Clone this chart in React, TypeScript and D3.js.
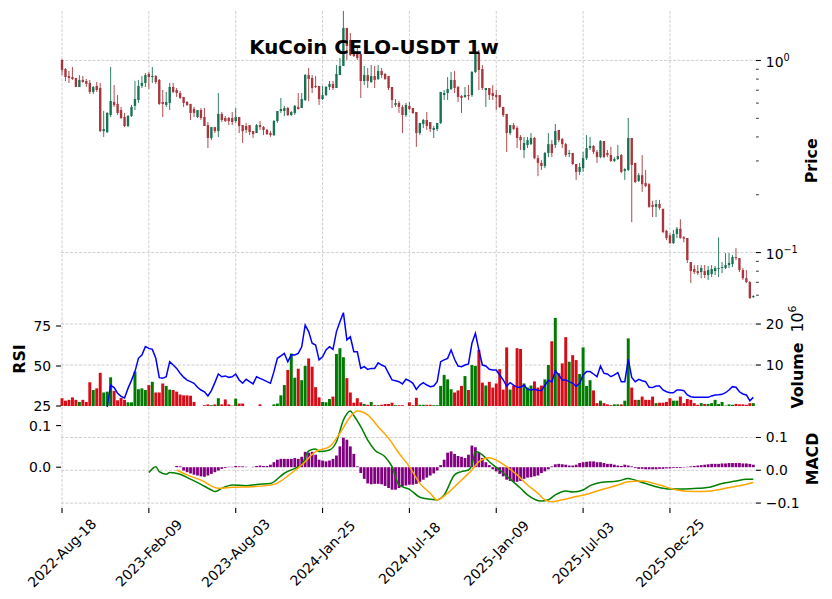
import { useEffect, useRef } from 'react';
import * as d3 from 'd3';

// weekly candles, index 0 = 2022-Aug-18
const tickWeeks = [0, 25, 50, 75, 100, 125, 150, 175];
const tickLabels = ['2022-Aug-18', '2023-Feb-09', '2023-Aug-03', '2024-Jan-25', '2024-Jul-18', '2025-Jan-09', '2025-Jul-03', '2025-Dec-25'];

const opens = [
  1.006, 0.903, 0.830, 0.820, 0.811, 0.728, 0.792, 0.782, 0.764, 0.686,
  0.737, 0.719, 0.429, 0.424, 0.520, 0.608, 0.594, 0.552, 0.508, 0.456,
  0.514, 0.580, 0.623, 0.737, 0.764, 0.851, 0.820, 0.830, 0.792, 0.608,
  0.587, 0.601, 0.728, 0.702, 0.677, 0.646, 0.608, 0.594, 0.559, 0.508,
  0.552, 0.508, 0.461, 0.395, 0.450, 0.429, 0.527, 0.502, 0.502, 0.502,
  0.484, 0.508, 0.461, 0.456, 0.461, 0.429, 0.419, 0.461, 0.450, 0.435,
  0.419, 0.409, 0.484, 0.546, 0.546, 0.566, 0.520, 0.533, 0.573, 0.566,
  0.623, 0.840, 0.811, 0.737, 0.737, 0.630, 0.661, 0.728, 0.755, 0.719,
  0.840, 0.936, 1.477, 1.279, 1.081, 1.094, 1.081, 0.782, 0.840, 0.773,
  0.830, 0.801, 0.882, 0.851, 0.830, 0.728, 0.587, 0.601, 0.573, 0.520,
  0.580, 0.566, 0.539, 0.419, 0.467, 0.490, 0.478, 0.435, 0.440, 0.473,
  0.661, 0.677, 0.711, 0.792, 0.728, 0.653, 0.646, 0.661, 0.661, 0.871,
  1.094, 0.903, 0.702, 0.719, 0.677, 0.661, 0.661, 0.573, 0.527, 0.419,
  0.461, 0.445, 0.400, 0.342, 0.363, 0.367, 0.395, 0.310, 0.293, 0.282,
  0.330, 0.367, 0.363, 0.435, 0.390, 0.367, 0.326, 0.330, 0.289, 0.263,
  0.275, 0.310, 0.350, 0.359, 0.334, 0.314, 0.381, 0.330, 0.322, 0.300,
  0.307, 0.322, 0.266, 0.269, 0.395, 0.293, 0.236, 0.253, 0.230, 0.227,
  0.177, 0.173, 0.179, 0.169, 0.130, 0.123, 0.112, 0.125, 0.133, 0.120,
  0.119, 0.0892, 0.0821, 0.0801, 0.0792, 0.0801, 0.0764, 0.0773, 0.0801, 0.0821,
  0.0831, 0.0831, 0.0861, 0.0871, 0.0947, 0.0936, 0.0811, 0.0736, 0.0702, 0.0587,
];
const highs = [
  1.018, 0.914, 0.882, 0.925, 0.811, 0.840, 0.830, 0.801, 0.792, 0.737,
  0.773, 0.764, 0.546, 0.539, 0.925, 0.745, 0.661, 0.573, 0.533, 0.520,
  0.587, 0.782, 0.792, 0.830, 0.861, 0.871, 0.925, 0.840, 0.801, 0.702,
  0.686, 0.764, 0.764, 0.719, 0.694, 0.646, 0.615, 0.594, 0.573, 0.552,
  0.566, 0.566, 0.478, 0.450, 0.450, 0.677, 0.539, 0.514, 0.508, 0.539,
  0.566, 0.508, 0.461, 0.473, 0.461, 0.429, 0.467, 0.484, 0.456, 0.440,
  0.429, 0.490, 0.546, 0.638, 0.580, 0.573, 0.546, 0.587, 0.677, 0.677,
  0.851, 0.914, 0.840, 0.830, 0.737, 0.737, 0.737, 0.782, 0.782, 0.947,
  1.030, 1.811, 1.477, 1.390, 1.134, 1.162, 1.081, 0.936, 0.914, 0.947,
  0.936, 0.947, 0.914, 0.861, 0.830, 0.728, 0.630, 0.615, 0.587, 0.601,
  0.608, 0.566, 0.539, 0.473, 0.496, 0.539, 0.478, 0.456, 0.473, 0.686,
  0.702, 0.820, 0.871, 0.882, 0.737, 0.661, 0.728, 0.745, 0.882, 1.134,
  1.134, 0.947, 0.719, 0.719, 0.745, 0.702, 0.661, 0.573, 0.527, 0.461,
  0.473, 0.456, 0.409, 0.400, 0.400, 0.419, 0.400, 0.322, 0.303, 0.334,
  0.419, 0.385, 0.467, 0.435, 0.395, 0.372, 0.342, 0.330, 0.289, 0.293,
  0.334, 0.409, 0.400, 0.363, 0.342, 0.385, 0.381, 0.342, 0.355, 0.314,
  0.363, 0.326, 0.275, 0.502, 0.395, 0.293, 0.259, 0.322, 0.269, 0.230,
  0.186, 0.188, 0.188, 0.169, 0.131, 0.126, 0.131, 0.136, 0.149, 0.122,
  0.119, 0.0892, 0.0861, 0.0861, 0.0861, 0.0861, 0.0851, 0.0861, 0.0851, 0.120,
  0.0892, 0.0994, 0.0994, 0.0971, 0.1055, 0.0936, 0.0831, 0.0811, 0.071, 0.060,
];
const lows = [
  0.840, 0.782, 0.764, 0.792, 0.728, 0.728, 0.764, 0.728, 0.669, 0.669,
  0.686, 0.424, 0.400, 0.419, 0.508, 0.573, 0.520, 0.495, 0.450, 0.450,
  0.508, 0.552, 0.601, 0.719, 0.728, 0.711, 0.764, 0.755, 0.587, 0.508,
  0.573, 0.552, 0.677, 0.646, 0.630, 0.573, 0.580, 0.490, 0.508, 0.502,
  0.490, 0.456, 0.350, 0.385, 0.419, 0.400, 0.478, 0.478, 0.461, 0.461,
  0.473, 0.419, 0.372, 0.419, 0.409, 0.395, 0.419, 0.435, 0.409, 0.409,
  0.400, 0.404, 0.473, 0.533, 0.514, 0.514, 0.514, 0.520, 0.555, 0.566,
  0.615, 0.615, 0.677, 0.719, 0.587, 0.623, 0.653, 0.702, 0.702, 0.719,
  0.840, 0.947, 1.006, 1.055, 1.043, 1.006, 0.638, 0.745, 0.719, 0.764,
  0.719, 0.792, 0.811, 0.792, 0.702, 0.566, 0.573, 0.533, 0.419, 0.508,
  0.552, 0.527, 0.355, 0.409, 0.445, 0.435, 0.424, 0.395, 0.429, 0.467,
  0.623, 0.623, 0.702, 0.677, 0.608, 0.533, 0.638, 0.623, 0.646, 0.861,
  0.702, 0.702, 0.573, 0.623, 0.623, 0.552, 0.566, 0.508, 0.334, 0.409,
  0.435, 0.350, 0.342, 0.310, 0.350, 0.363, 0.307, 0.250, 0.269, 0.275,
  0.314, 0.314, 0.350, 0.376, 0.350, 0.314, 0.314, 0.286, 0.239, 0.253,
  0.263, 0.303, 0.342, 0.326, 0.293, 0.310, 0.310, 0.314, 0.296, 0.296,
  0.303, 0.259, 0.239, 0.266, 0.144, 0.230, 0.233, 0.207, 0.219, 0.171,
  0.153, 0.153, 0.167, 0.126, 0.116, 0.111, 0.111, 0.119, 0.118, 0.113,
  0.0882, 0.0694, 0.0773, 0.0764, 0.0736, 0.0736, 0.0719, 0.0745, 0.0764, 0.0745,
  0.0782, 0.0821, 0.0831, 0.0841, 0.0914, 0.0792, 0.0719, 0.0694, 0.0573, 0.058,
];
const closes = [
  0.892, 0.820, 0.811, 0.801, 0.728, 0.792, 0.773, 0.755, 0.686, 0.728,
  0.702, 0.429, 0.440, 0.533, 0.615, 0.587, 0.533, 0.502, 0.456, 0.514,
  0.573, 0.630, 0.737, 0.764, 0.840, 0.820, 0.830, 0.773, 0.594, 0.594,
  0.608, 0.728, 0.686, 0.677, 0.638, 0.601, 0.587, 0.533, 0.533, 0.552,
  0.502, 0.456, 0.395, 0.450, 0.429, 0.527, 0.490, 0.484, 0.484, 0.478,
  0.508, 0.456, 0.429, 0.435, 0.424, 0.414, 0.461, 0.450, 0.435, 0.414,
  0.409, 0.484, 0.546, 0.559, 0.566, 0.520, 0.539, 0.580, 0.559, 0.630,
  0.840, 0.801, 0.719, 0.728, 0.630, 0.661, 0.728, 0.755, 0.719, 0.851,
  0.936, 1.477, 1.190, 1.068, 1.055, 1.030, 0.782, 0.840, 0.782, 0.830,
  0.792, 0.882, 0.840, 0.801, 0.719, 0.623, 0.601, 0.573, 0.520, 0.587,
  0.559, 0.533, 0.419, 0.473, 0.490, 0.456, 0.440, 0.445, 0.473, 0.686,
  0.677, 0.711, 0.792, 0.719, 0.646, 0.638, 0.661, 0.653, 0.871, 1.107,
  0.892, 0.719, 0.719, 0.661, 0.653, 0.646, 0.573, 0.520, 0.419, 0.461,
  0.440, 0.395, 0.385, 0.372, 0.385, 0.395, 0.310, 0.293, 0.282, 0.330,
  0.367, 0.330, 0.429, 0.385, 0.367, 0.322, 0.330, 0.289, 0.263, 0.279,
  0.310, 0.350, 0.359, 0.334, 0.314, 0.381, 0.314, 0.322, 0.300, 0.307,
  0.318, 0.263, 0.272, 0.395, 0.286, 0.233, 0.253, 0.227, 0.222, 0.173,
  0.173, 0.179, 0.171, 0.128, 0.119, 0.112, 0.125, 0.133, 0.119, 0.118,
  0.0914, 0.0801, 0.0792, 0.0782, 0.0831, 0.0764, 0.0811, 0.0821, 0.0831, 0.0831,
  0.0841, 0.0861, 0.0882, 0.0947, 0.0936, 0.0811, 0.0736, 0.0702, 0.058, 0.0594,
];

// volume in millions
const volumes = [
  1.9, 1.3, 1.5, 2.1, 1.5, 1.0, 1.5, 1.0, 5.8, 3.9,
  4.3, 8.1, 3.3, 3.5, 7.0, 3.7, 1.4, 2.0, 1.5, 0.9,
  0.9, 8.4, 4.1, 4.3, 3.9, 5.1, 5.9, 3.3, 3.3, 5.5,
  4.9, 4.0, 3.9, 3.5, 2.8, 2.6, 2.6, 2.5, 1.0, 0,
  0, 0.2, 0.4, 0.2, 0.4, 1.9, 0.4, 1.6, 0.4, 0.1,
  1.8, 0.6, 0.6, 0, 0, 0, 0, 0.4, 0, 0,
  0, 0.4, 0.6, 2.6, 5.1, 8.8, 12.8, 6.9, 9.1, 6.3,
  9.8, 11.6, 9.6, 4.6, 2.1, 1.0, 0.9, 1.7, 2.3, 12.7,
  14.1, 11.9, 6.8, 3.3, 0.8, 1.9, 0.9, 0.5, 0.3, 1.0,
  0.2, 0.2, 0.3, 0.5, 0.5, 0.8, 0.2, 0.2, 0.2, 0,
  0.9, 0.2, 2.0, 0.3, 0.3, 0.3, 0.3, 0.2, 0.2, 4.9,
  7.6, 6.5, 4.1, 3.3, 3.8, 4.9, 7.3, 3.9, 10.0, 9.8,
  13.7, 5.7, 5.0, 5.9, 4.5, 5.5, 9.0, 4.0, 14.3, 4.0,
  5.0, 14.1, 13.9, 5.5, 4.5, 5.0, 6.0, 4.5, 5.0, 6.5,
  10.0, 15.8, 21.5, 8.0, 10.4, 16.8, 10.8, 12.4, 11.2, 7.8,
  14.3, 4.9, 6.3, 3.8, 0.7, 1.3, 0.7, 0.4, 0.2, 0.4,
  0.4, 0.4, 1.3, 16.5, 4.5, 1.5, 1.5, 2.3, 1.5, 1.5,
  2.3, 0.7, 0.8, 0.8, 1.0, 1.9, 1.3, 1.3, 2.3, 0.7,
  1.7, 1.5, 0.7, 0.3, 0.7, 0.5, 0.5, 0.7, 1.5, 0.5,
  1.0, 0.1, 0.4, 0.3, 0.5, 0.4, 0.4, 0.3, 0.7, 0.7,
];

// RSI(14), first 13 weeks empty
const rsi = [
  null, null, null, null, null, null, null, null, null, null,
  null, null, null, 24.5, 38, 36.5, 33, 31, 30, 36,
  41, 46.5, 54.8, 56.9, 62.1, 61, 60.4, 54.8, 42.7, 42.3,
  43.3, 52.7, 50.6, 48.5, 45.5, 43, 41.2, 40.2, 39.2, 36.7,
  35, 33.9, 31.3, 34.6, 39.6, 45, 43.3, 43.8, 42.9, 43.3,
  45, 41.3, 39.2, 41.7, 40.2, 38.8, 43.3, 42.3, 41.3, 40.2,
  39.2, 46.5, 54.8, 56.3, 57.9, 52.7, 57, 56.9, 57.9, 62,
  75.6, 71.5, 64.2, 63.1, 53.8, 55.8, 60, 62.1, 60.4, 71.5,
  77.7, 83.3, 66.3, 68.3, 58.9, 58.9, 48.5, 49.6, 47.9, 48.5,
  48.5, 52, 50.6, 49.6, 45.4, 41.3, 40.8, 40.2, 38.8, 41.7,
  40.8, 39.2, 35.4, 38.1, 39.6, 38.1, 37.1, 37.5, 40.2, 52.7,
  53.8, 54.8, 60, 54.2, 50, 49.6, 50.6, 51.3, 64.2, 70.4,
  60, 50.6, 50, 47.9, 47.5, 47.5, 44.4, 41.3, 37.5, 39.6,
  38.1, 36.7, 36.7, 38.1, 35.4, 35, 35.4, 34.8, 34.5, 38,
  41, 40, 47, 44.4, 41.3, 41.3, 40.2, 39.2, 37.4, 39.2,
  44.4, 46.5, 46.5, 45, 43.3, 50, 45.4, 45, 43.3, 44.4,
  45.8, 40.2, 40.2, 54.2, 42.9, 40.2, 41.7, 40.8, 40.2, 36.7,
  36.5, 37.5, 37.5, 35, 33.9, 33.3, 33.3, 35, 35, 34.6,
  31.9, 30.8, 30.4, 30.4, 30.4, 30.4, 30.4, 31.3, 31.9, 32,
  32.3, 33.3, 35, 37.1, 36.7, 33.9, 32.5, 31.9, 28.3, 30.4,
];

// MACD / signal read as [week, value]
const macdPts = [
  [25, -0.007], [27, 0.011], [28, -0.004], [30, -0.012], [31, -0.007], [34, -0.012], [37, -0.027],
  [40, -0.043], [43, -0.060], [44, -0.065], [46, -0.055], [49, -0.045], [53, -0.047], [56, -0.043],
  [60, -0.040], [64, -0.009], [67, 0.006], [69, 0.016], [71, 0.059], [73, 0.065], [74, 0.057],
  [77, 0.062], [79, 0.087], [81, 0.153], [83, 0.181], [84, 0.167], [86, 0.133], [88, 0.092],
  [90, 0.062], [93, 0.041], [95, 0.011], [97, -0.045], [100, -0.058], [103, -0.082], [106, -0.088],
  [108, -0.090], [110, -0.075], [113, -0.014], [115, -0.004], [117, 0.001], [118, 0.016], [119, 0.057],
  [121, 0.047], [123, 0.026], [126, 0.001], [129, -0.027], [132, -0.055], [134, -0.075], [138, -0.094],
  [140, -0.090], [142, -0.075], [145, -0.063], [147, -0.066], [150, -0.060], [152, -0.047], [155, -0.037],
  [160, -0.033], [163, -0.025], [164, -0.027], [167, -0.037], [171, -0.050], [175, -0.057], [179, -0.057],
  [183, -0.055], [187, -0.050], [190, -0.040], [194, -0.033], [197, -0.027], [199, -0.027],
];
const signalPts = [
  [33, 0.001], [36, -0.014], [40, -0.030], [45, -0.055], [49, -0.052], [55, -0.050], [61, -0.043],
  [66, -0.009], [69, 0.016], [73, 0.057], [77, 0.072], [80, 0.113], [83, 0.163], [85, 0.181],
  [88, 0.169], [91, 0.133], [94, 0.098], [97, 0.052], [100, 0.011], [103, -0.040], [106, -0.070],
  [108, -0.090], [111, -0.070], [114, -0.040], [116, -0.020], [118, 0.001], [120, 0.026], [123, 0.038],
  [125, 0.031], [128, 0.011], [131, -0.014], [134, -0.045], [137, -0.070], [139, -0.090], [141, -0.096],
  [144, -0.090], [148, -0.080], [151, -0.073], [155, -0.060], [160, -0.045], [163, -0.035], [167, -0.033],
  [172, -0.045], [177, -0.060], [182, -0.065], [187, -0.063], [191, -0.055], [196, -0.045], [199, -0.037],
];
// histogram starts at week 33
const histStart = 33;
const hist = [
  0.003, 0.002, -0.008, -0.012, -0.015, -0.018, -0.020, -0.022, -0.023, -0.020,
  -0.016, -0.012, -0.008, -0.004, -0.002, 0.001, 0.001, 0.003, 0.002, 0.002,
  0.001, 0, 0.001, 0.003, 0.004, 0.003, 0.003, 0.006, 0.012, 0.018,
  0.020, 0.020, 0.020, 0.020, 0.022, 0.020, 0.025, 0.037, 0.035, 0.037,
  0.030, 0.018, 0.016, 0.014, 0.016, 0.020, 0.028, 0.050, 0.071, 0.066,
  0.050, 0.032, 0.002, -0.014, -0.028, -0.039, -0.041, -0.040, -0.040, -0.041,
  -0.045, -0.050, -0.054, -0.054, -0.050, -0.046, -0.044, -0.042, -0.042, -0.040,
  -0.035, -0.030, -0.025, -0.020, -0.015, -0.008, 0.005, 0.018, 0.035, 0.038,
  0.032, 0.027, 0.025, 0.022, 0.030, 0.052, 0.048, 0.035, 0.022, 0.012,
  0.005, -0.005, -0.010, -0.016, -0.022, -0.030, -0.033, -0.035, -0.035, -0.033,
  -0.028, -0.025, -0.024, -0.022, -0.020, -0.014, -0.010, -0.005, 0.002, 0.007,
  0.008, 0.007, 0.006, 0.004, 0.004, 0.006, 0.010, 0.012, 0.013, 0.014,
  0.014, 0.012, 0.012, 0.010, 0.008, 0.008, 0.006, 0.004, 0.003, 0.006,
  0.004, 0.002, -0.002, -0.004, -0.004, -0.005, -0.005, -0.005, -0.005, -0.004,
  -0.004, -0.003, -0.003, -0.002, -0.002, -0.002, -0.001, 0.001, 0.002, 0.003,
  0.004, 0.005, 0.006, 0.007, 0.008, 0.008, 0.008, 0.009, 0.009, 0.010,
  0.010, 0.010, 0.010, 0.009, 0.009, 0.008, 0.006,
];

const FONT = 'DejaVu Sans';
const upColor = '#006340';
const downColor = '#A02128';
const volUp = '#007a00';
const volDown = '#d50d18';
const gridColor = '#c4c4c4';

export default function App() {
  const ref = useRef<SVGSVGElement>(null);

  useEffect(() => {
    const svg = d3.select(ref.current);
    svg.selectAll('*').remove();

    const left = 61, right = 756;
    const price = { top: 11, bottom: 306 };
    const vol = { top: 306, bottom: 406 };
    const mac = { top: 406, bottom: 508 };

    const n = closes.length;
    const x = d3.scaleLinear().domain([-0.29, n - 0.23]).range([left, right]);
    const step = x(1) - x(0);

    const yP = d3.scaleLog().domain([0.0527, 1.81]).range([price.bottom, price.top]);
    const yV = d3.scaleLinear().domain([0, 24.4]).range([vol.bottom, vol.top]);
    const yR = d3.scaleLinear().domain([25, 87.5]).range([vol.bottom, vol.top]);
    const yM = d3.scaleLinear().domain([-0.115, 0.196]).range([mac.bottom, mac.top]);
    const yH = d3.scaleLinear().domain([-0.098, 0.147]).range([mac.bottom, mac.top]);

    const g = svg.append('g').attr('font-family', FONT);

    // grid
    const grid = g.append('g').attr('stroke', gridColor).attr('stroke-width', 0.8).attr('stroke-dasharray', '3,1.5');
    tickWeeks.forEach(w => {
      grid.append('line').attr('x1', x(w)).attr('x2', x(w)).attr('y1', price.top).attr('y2', mac.bottom);
    });
    const hLine = (y: number) => grid.append('line').attr('x1', left).attr('x2', right).attr('y1', y).attr('y2', y);
    [1, 0.1].forEach(v => hLine(yP(v)));
    [10, 20].forEach(v => hLine(yV(v)));
    [-0.1, 0, 0.1].forEach(v => hLine(yM(v)));

    // candles
    const cw = step * 0.68;
    const candles = g.append('g').attr('opacity', 0.9);
    closes.forEach((c, i) => {
      const o = opens[i];
      const col = c >= o ? upColor : downColor;
      const hi = Math.max(highs[i], o, c), lo = Math.min(lows[i], o, c);
      candles.append('line')
        .attr('x1', x(i)).attr('x2', x(i))
        .attr('y1', yP(hi)).attr('y2', yP(lo))
        .attr('stroke', col).attr('stroke-width', 0.9);
      const yTop = yP(Math.max(o, c));
      const h = Math.max(yP(Math.min(o, c)) - yTop, 0.9);
      candles.append('rect')
        .attr('x', x(i) - cw / 2).attr('y', yTop)
        .attr('width', cw).attr('height', h)
        .attr('fill', col);
    });

    // volume bars
    const vw = step * 0.85;
    volumes.forEach((v, i) => {
      if (!v) return;
      g.append('rect')
        .attr('x', x(i) - vw / 2).attr('y', yV(v))
        .attr('width', vw).attr('height', yV(0) - yV(v))
        .attr('fill', closes[i] >= opens[i] ? volUp : volDown);
    });

    // RSI
    const rsiLine = d3.line<number | null>()
      .defined(d => d != null)
      .x((_, i) => x(i))
      .y(d => yR(d as number));
    g.append('path').attr('d', rsiLine(rsi))
      .attr('fill', 'none').attr('stroke', '#0000ff').attr('stroke-width', 1.5);

    // MACD histogram
    hist.forEach((v, k) => {
      const i = histStart + k;
      const hw = step * 0.8;
      g.append('rect')
        .attr('x', x(i) - hw / 2)
        .attr('y', Math.min(yH(v), yH(0)))
        .attr('width', hw)
        .attr('height', Math.abs(yH(v) - yH(0)))
        .attr('fill', '#800080');
    });
    const ptLine = d3.line<number[]>().x(d => x(d[0])).y(d => yM(d[1])).curve(d3.curveMonotoneX);
    g.append('path').attr('d', ptLine(macdPts)).attr('fill', 'none').attr('stroke', 'green').attr('stroke-width', 1.5);
    g.append('path').attr('d', ptLine(signalPts)).attr('fill', 'none').attr('stroke', 'orange').attr('stroke-width', 1.5);

    // tick marks + labels
    const tk = g.append('g').attr('stroke', '#000').attr('stroke-width', 1.1);
    const txt = g.append('g').attr('font-size', 13.9).attr('fill', '#000');
    const rightTick = (y: number, len = 4.9, w = 1.1) =>
      tk.append('line').attr('x1', right).attr('x2', right + len).attr('y1', y).attr('y2', y).attr('stroke-width', w);
    const leftTick = (y: number) =>
      tk.append('line').attr('x1', left).attr('x2', left - 4.9).attr('y1', y).attr('y2', y);

    // price log ticks
    [[1, '0'], [0.1, '\u22121']].forEach(([v, e]) => {
      const y = yP(v as number);
      rightTick(y);
      const t = txt.append('text').attr('x', right + 9.8).attr('y', y + 6.8);
      t.append('tspan').text('10');
      t.append('tspan').attr('dy', -6).attr('font-size', 9.7).text(e as string);
    });
    [0.06, 0.07, 0.08, 0.09, 0.2, 0.3, 0.4, 0.5, 0.6, 0.7, 0.8, 0.9].forEach(v => rightTick(yP(v), 2.8, 0.8));

    // volume ticks
    [10, 20].forEach(v => {
      rightTick(yV(v));
      txt.append('text').attr('x', right + 9.8).attr('y', yV(v)).attr('dominant-baseline', 'central').text(v);
    });
    // rsi ticks
    [25, 50, 75].forEach(v => {
      leftTick(yR(v));
      txt.append('text').attr('x', left - 9.8).attr('y', yR(v)).attr('text-anchor', 'end').attr('dominant-baseline', 'central').text(v);
    });
    // macd ticks
    [-0.1, 0, 0.1].forEach(v => {
      rightTick(yM(v));
      txt.append('text').attr('x', right + 9.8).attr('y', yM(v)).attr('dominant-baseline', 'central')
        .text(d3.format('.1f')(v).replace('-', '\u2212'));
    });
    [0, 0.1].forEach(v => {
      leftTick(yH(v));
      txt.append('text').attr('x', left - 9.8).attr('y', yH(v)).attr('text-anchor', 'end').attr('dominant-baseline', 'central')
        .text(d3.format('.1f')(v));
    });
    // x ticks
    tickWeeks.forEach((w, k) => {
      tk.append('line').attr('x1', x(w)).attr('x2', x(w)).attr('y1', mac.bottom).attr('y2', mac.bottom + 4.9);
      txt.append('text')
        .attr('transform', `translate(${x(w)},553) rotate(-45)`)
        .attr('text-anchor', 'middle').attr('dominant-baseline', 'central')
        .text(tickLabels[k]);
    });

    // labels
    g.append('text').attr('x', 374).attr('y', 53.5).attr('text-anchor', 'middle')
      .attr('font-size', 19.8).attr('font-weight', 'bold').text('KuCoin CELO-USDT 1w');
    const ylab = (xx: number, yy: number, s: string) =>
      g.append('text').attr('transform', `translate(${xx},${yy}) rotate(-90)`).attr('text-anchor', 'middle')
        .attr('font-size', 15.8).attr('font-weight', 'bold').text(s);
    ylab(817, 160.8, 'Price');
    ylab(25, 359, 'RSI');
    ylab(818, 459, 'MACD');
    const vl = g.append('text').attr('transform', 'translate(802.5,357) rotate(-90)').attr('text-anchor', 'middle')
      .attr('font-size', 15.8);
    vl.append('tspan').attr('font-weight', 'bold').text('Volume');
    vl.append('tspan').text('\u00a0\u00a010');
    vl.append('tspan').attr('dy', -6.5).attr('font-size', 11).text('6');
  }, []);

  return <svg ref={ref} width={832} height={599} style={{ position: 'absolute', left: 0, top: 0, background: '#fff' }} />;
}
